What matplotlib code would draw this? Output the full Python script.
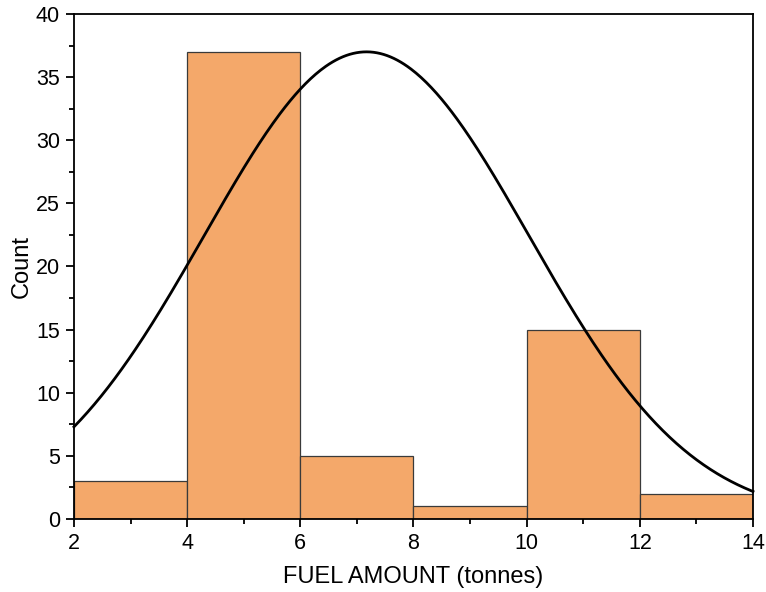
import numpy as np
import matplotlib
matplotlib.use("Agg")
import matplotlib.pyplot as plt
from matplotlib.ticker import MultipleLocator

plt.rcParams['font.family'] = ['Liberation Sans', 'DejaVu Sans']

# Histogram bins (tonnes) and counts
bin_edges = [2, 4, 6, 8, 10, 12, 14]
counts = [3, 37, 5, 1, 15, 2]

# Normal curve overlay parameters
curve_mean = 7.17
curve_sigma = 2.87
curve_peak = 37.0

fig = plt.figure(figsize=(7.66, 5.92), dpi=100)
ax = fig.add_axes([0.0966, 0.1233, 0.8864, 0.8531])

widths = np.diff(bin_edges)
ax.bar(bin_edges[:-1], counts, width=widths, align='edge',
       color='#F4A86A', edgecolor='#3a3a3a', linewidth=0.9, zorder=2)

xs = np.linspace(bin_edges[0], bin_edges[-1], 400)
ys = curve_peak * np.exp(-0.5 * ((xs - curve_mean) / curve_sigma) ** 2)
ax.plot(xs, ys, color='black', linewidth=2.0, zorder=3, clip_on=False)

ax.set_xlim(2, 14)
ax.set_ylim(0, 40)
ax.xaxis.set_major_locator(MultipleLocator(2))
ax.xaxis.set_minor_locator(MultipleLocator(1))
ax.yaxis.set_major_locator(MultipleLocator(5))
ax.yaxis.set_minor_locator(MultipleLocator(2.5))

ax.tick_params(which='major', direction='out', length=6, width=1.3,
               labelsize=15.5, top=False, right=False, pad=4)
ax.tick_params(which='minor', direction='out', length=3.5, width=1.3,
               top=False, right=False)
for s in ax.spines.values():
    s.set_linewidth(1.3)

ax.set_xlabel('FUEL AMOUNT (tonnes)', fontsize=17, labelpad=9)
ax.set_ylabel('Count', fontsize=17, labelpad=2)

fig.savefig('out.png', dpi=100)
